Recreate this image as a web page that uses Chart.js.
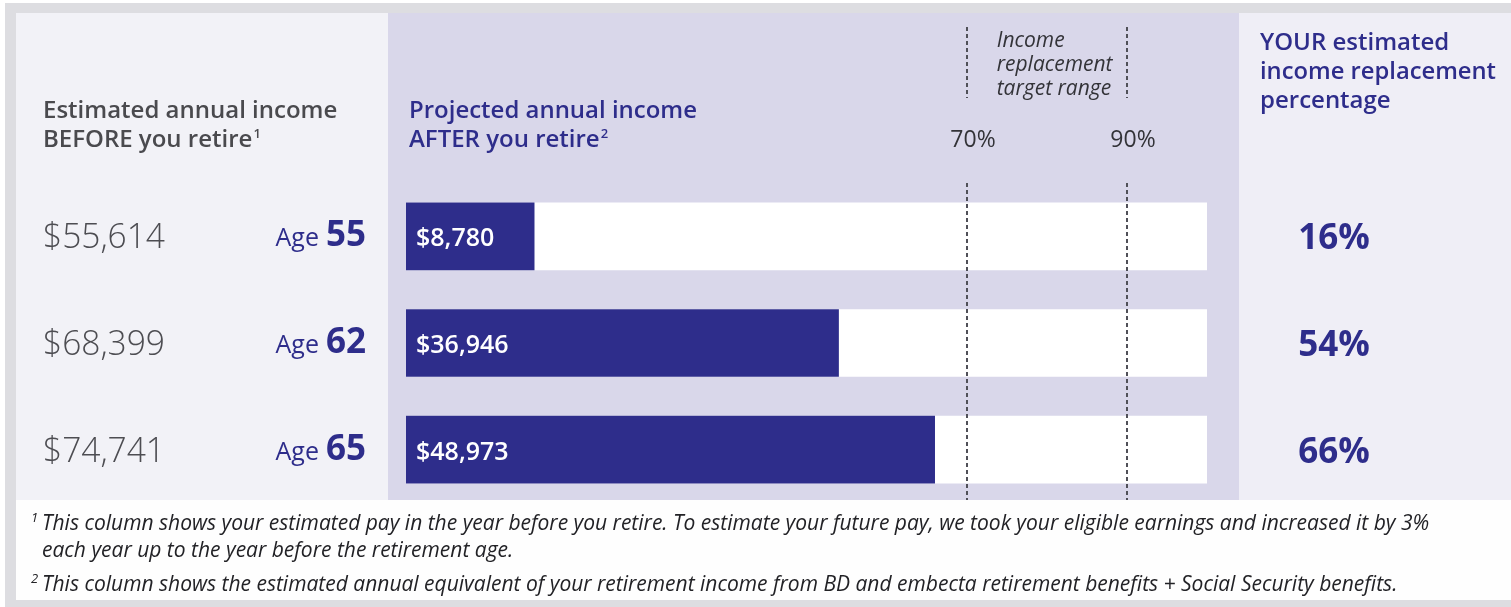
<!DOCTYPE html>
<html>
<head>
<meta charset="utf-8">
<script src="https://cdn.jsdelivr.net/npm/chart.js@4/dist/chart.umd.min.js"></script>
<style>
  html, body { margin: 0; padding: 0; background: #ffffff; }
  #wrap { width: 1511px; height: 607px; position: relative; }
</style>
</head>
<body>
<div id="wrap"><canvas id="c" width="1511" height="607"></canvas></div>
<script>
// ---- Data ----
const categories = ['Age 55', 'Age 62', 'Age 65'];
const ages = [55, 62, 65];
const incomeBefore = [55614, 68399, 74741];
const incomeAfter = [8780, 36946, 48973];
const replacementPct = [16, 54, 66];
const targetRange = [70, 90];
const trackMax = [100, 100, 100];

const NAVY = '#2e2d8b';
const FONT = '"Open Sans", "Noto Sans", sans-serif';
const money = v => '$' + v.toLocaleString('en-US');

function txt(ctx, s, x, y, font, color, align, maxW) {
  ctx.font = font;
  ctx.fillStyle = color;
  ctx.textAlign = align || 'left';
  ctx.textBaseline = 'alphabetic';
  if (maxW) ctx.fillText(s, x, y, maxW); else ctx.fillText(s, x, y);
}
function supText(ctx, main, sup, x, y, font, supFont, color, maxW) {
  ctx.font = font;
  let w = ctx.measureText(main).width;
  if (maxW && w > maxW) w = maxW;
  txt(ctx, main, x, y, font, color, 'left', maxW);
  txt(ctx, sup, x + w + 1, y - 9, supFont, color, 'left');
}

const panelPlugin = {
  id: 'panels',
  beforeDraw(chart) {
    const ctx = chart.ctx;
    ctx.save();
    ctx.fillStyle = '#dddde1';
    ctx.fillRect(0, 0, 1511, 607);
    ctx.fillStyle = '#ffffff';
    ctx.fillRect(0, 0, 1511, 3);
    ctx.fillRect(0, 0, 5, 607);
    ctx.fillStyle = '#f2f2f7';
    ctx.fillRect(16, 13, 372, 487);
    ctx.fillStyle = '#d9d7ea';
    ctx.fillRect(388, 13, 851, 487);
    ctx.fillStyle = '#efeef6';
    ctx.fillRect(1239, 13, 272, 487);
    ctx.fillStyle = '#fefefe';
    ctx.fillRect(16, 500, 1495, 100);
    ctx.restore();
  },
  afterDatasetsDraw(chart) {
    const ctx = chart.ctx;
    const xs = chart.scales.x, ys = chart.scales.y;
    const area = chart.chartArea;
    ctx.save();

    // dashed target lines
    ctx.strokeStyle = '#505058';
    ctx.lineWidth = 2;
    ctx.setLineDash([4, 3]);
    targetRange.forEach(v => {
      const x = Math.round(xs.getPixelForValue(v));
      ctx.beginPath();
      ctx.moveTo(x, area.top); ctx.lineTo(x, 500);
      ctx.moveTo(x, 27); ctx.lineTo(x, 98);
      ctx.stroke();
      txt(ctx, v + '%', x + 6, 147, '400 23px ' + FONT, '#333338', 'center', 50);
    });
    ctx.setLineDash([]);

    // target range caption
    const x70 = xs.getPixelForValue(targetRange[0]);
    const itf = 'italic 400 21px ' + FONT;
    txt(ctx, 'Income', x70 + 30, 47, itf, '#333338', 'left', 72);
    txt(ctx, 'replacement', x70 + 30, 71, itf, '#333338', 'left', 116);
    txt(ctx, 'target range', x70 + 30, 95, itf, '#333338', 'left', 116);

    // headers
    const hf = '600 24px ' + FONT;
    txt(ctx, 'Estimated annual income', 43, 118, hf, '#4a4a4e', 'left', 295);
    supText(ctx, 'BEFORE you retire', '1', 43, 147, hf, '600 13px ' + FONT, '#4a4a4e', 212);
    txt(ctx, 'Projected annual income', 409, 118, hf, NAVY, 'left', 288);
    supText(ctx, 'AFTER you retire', '2', 409, 147, hf, '600 13px ' + FONT, NAVY, 196);
    const rf = '600 24px ' + FONT;
    txt(ctx, 'YOUR estimated', 1260, 50, rf, NAVY, 'left', 192);
    txt(ctx, 'income replacement', 1260, 79, rf, NAVY, 'left', 236);
    txt(ctx, 'percentage', 1260, 108, rf, NAVY, 'left', 131);

    // rows
    categories.forEach((c, i) => {
      const y = ys.getPixelForValue(i);
      txt(ctx, money(incomeBefore[i]), 43, y + 12, '300 35px ' + FONT, '#4d4d52', 'left', 122);
      ctx.font = '700 35px ' + FONT;
      const nw = Math.min(ctx.measureText(String(ages[i])).width, 41);
      txt(ctx, String(ages[i]), 366, y + 10, '700 35px ' + FONT, NAVY, 'right', 41);
      txt(ctx, 'Age', 366 - nw - 7, y + 10, '500 25px ' + FONT, NAVY, 'right', 44);
      txt(ctx, money(incomeAfter[i]), xs.getPixelForValue(0) + 10, y + 10, '600 25px ' + FONT, '#ffffff', 'left',
          i === 0 ? 83 : 99);
      txt(ctx, replacementPct[i] + '%', 1334, y + 13, '700 35px ' + FONT, NAVY, 'center', 74);
    });

    // footnotes
    const ff = 'italic 400 21px ' + FONT;
    const sf = 'italic 400 13px ' + FONT;
    txt(ctx, '1', 31, 522, sf, '#222226', 'left');
    txt(ctx, 'This column shows your estimated pay in the year before you retire. To estimate your future pay, we took your eligible earnings and increased it by 3%',
        42, 530, ff, '#222226', 'left', 1390);
    txt(ctx, 'each year up to the year before the retirement age.', 42, 557, ff, '#222226', 'left', 474);
    txt(ctx, '2', 31, 583, sf, '#222226', 'left');
    txt(ctx, 'This column shows the estimated annual equivalent of your retirement income from BD and embecta retirement benefits + Social Security benefits.',
        42, 591, ff, '#222226', 'left', 1365);
    ctx.restore();
  }
};

new Chart(document.getElementById('c'), {
  type: 'bar',
  data: {
    labels: categories,
    datasets: [
      { label: 'Replacement %', data: replacementPct, backgroundColor: NAVY, barThickness: 67,
        grouped: false, order: 1, borderWidth: 0 },
      { label: 'Track', data: trackMax, backgroundColor: '#ffffff', barThickness: 67,
        grouped: false, order: 2, borderWidth: 0 }
    ]
  },
  options: {
    indexAxis: 'y',
    responsive: false,
    maintainAspectRatio: false,
    devicePixelRatio: 1,
    animation: false,
    layout: { padding: { left: 406, right: 304, top: 183, bottom: 104 } },
    plugins: { legend: { display: false }, tooltip: { enabled: false } },
    scales: {
      x: { display: false, min: 0, max: 100 },
      y: { display: false, offset: true }
    }
  },
  plugins: [panelPlugin]
});
</script>
</body>
</html>
